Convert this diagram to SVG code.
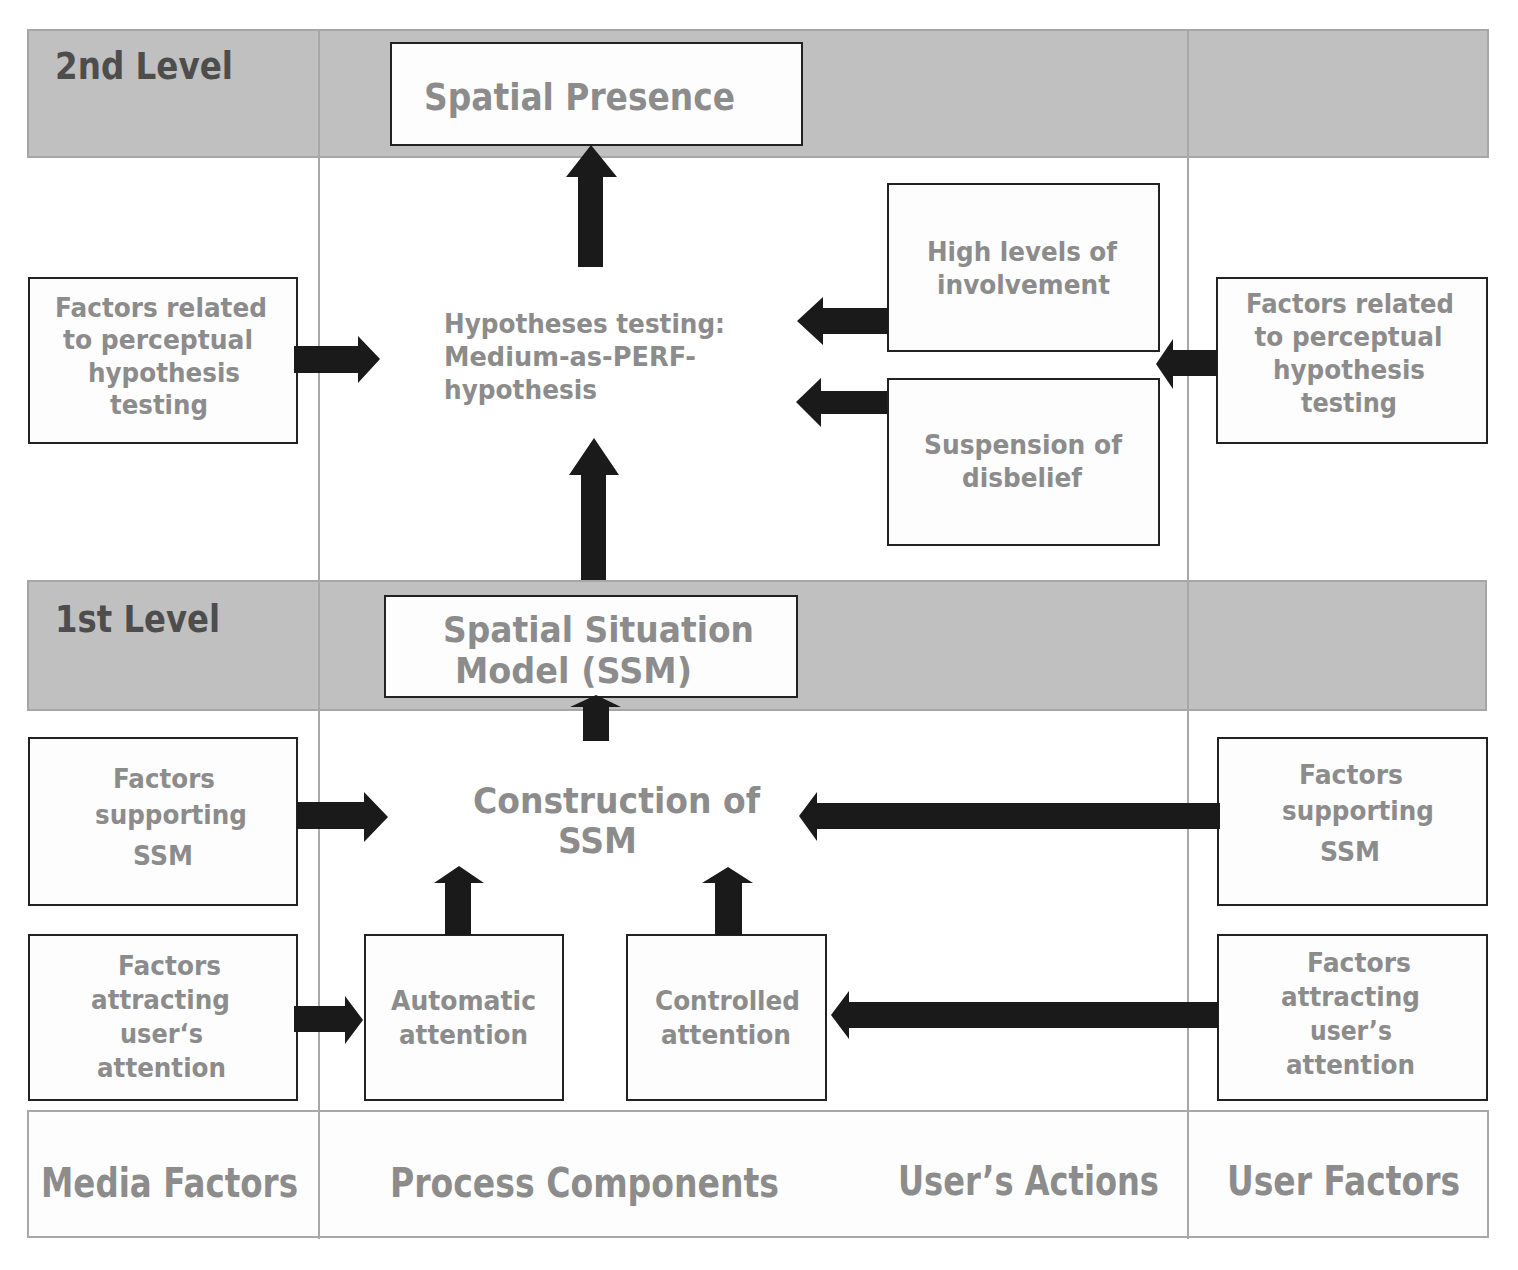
<svg xmlns="http://www.w3.org/2000/svg" width="1518" height="1270" viewBox="0 0 1518 1270">
<style>
.band{fill:#c0c0c0;stroke:#a6a6a6;stroke-width:2}
.bandw{fill:#fdfdfd;stroke:#a8a8a8;stroke-width:2}
.vline{stroke:#a8a8a8;stroke-width:2;fill:none}
.box{fill:#fdfdfd;stroke:#222;stroke-width:2}
.arr{fill:#1a1a1a}
text{font-family:"DejaVu Sans","Liberation Sans",sans-serif;font-weight:bold;fill:#8c8c8c}
.t{font-size:27px;text-anchor:middle}
.tl{font-size:27px;text-anchor:start}
.big{font-size:38px;text-anchor:middle}
.mid{font-size:35px;text-anchor:middle}
.lvl{font-size:37px;fill:#4d4d4d;text-anchor:start}
.bot{font-size:40px;text-anchor:middle}
</style>
<rect width="1518" height="1270" fill="#ffffff"/>
<g id="bands">
<rect class="band" x="28" y="30" width="1460" height="127"/>
<rect class="band" x="28" y="581" width="1458" height="129"/>
<rect class="bandw" x="28" y="1111" width="1460" height="126"/>
<line class="vline" x1="319" y1="30" x2="319" y2="1239"/>
<line class="vline" x1="1188" y1="30" x2="1188" y2="1239"/>
<text class="lvl" x="55" y="79" textLength="178" lengthAdjust="spacingAndGlyphs">2nd Level</text>
<text class="lvl" x="55" y="632" textLength="165" lengthAdjust="spacingAndGlyphs">1st Level</text>
<text class="bot" x="169.5" y="1197" textLength="257" lengthAdjust="spacingAndGlyphs">Media Factors</text>
<text class="bot" x="584.5" y="1197" textLength="389" lengthAdjust="spacingAndGlyphs">Process Components</text>
<text class="bot" x="1028.5" y="1195" textLength="261" lengthAdjust="spacingAndGlyphs">User’s Actions</text>
<text class="bot" x="1343.5" y="1195" textLength="233" lengthAdjust="spacingAndGlyphs">User Factors</text>
</g>
<g id="spatial-presence">
<rect class="box" x="391" y="43" width="411" height="102"/>
<text class="big" x="579.5" y="110" textLength="311" lengthAdjust="spacingAndGlyphs">Spatial Presence</text>
</g>
<g id="hypotheses-testing">
<text class="tl" x="444" y="333" textLength="281" lengthAdjust="spacingAndGlyphs">Hypotheses testing:</text>
<text class="tl" x="444" y="366" textLength="252" lengthAdjust="spacingAndGlyphs">Medium-as-PERF-</text>
<text class="tl" x="444" y="399" textLength="153" lengthAdjust="spacingAndGlyphs">hypothesis</text>
</g>
<g id="media-perceptual">
<rect class="box" x="29" y="278" width="268" height="165"/>
<text class="t" x="161" y="317" textLength="212" lengthAdjust="spacingAndGlyphs">Factors related</text>
<text class="t" x="158" y="349" textLength="190" lengthAdjust="spacingAndGlyphs">to perceptual</text>
<text class="t" x="164" y="382" textLength="152" lengthAdjust="spacingAndGlyphs">hypothesis</text>
<text class="t" x="159" y="414" textLength="98" lengthAdjust="spacingAndGlyphs">testing</text>
</g>
<g id="high-involvement">
<rect class="box" x="888" y="184" width="271" height="167"/>
<text class="t" x="1022" y="261" textLength="190" lengthAdjust="spacingAndGlyphs">High levels of</text>
<text class="t" x="1023.5" y="294" textLength="173" lengthAdjust="spacingAndGlyphs">involvement</text>
</g>
<g id="suspension">
<rect class="box" x="888" y="379" width="271" height="166"/>
<text class="t" x="1023" y="454" textLength="198" lengthAdjust="spacingAndGlyphs">Suspension of</text>
<text class="t" x="1022" y="487" textLength="120" lengthAdjust="spacingAndGlyphs">disbelief</text>
</g>
<g id="user-perceptual">
<rect class="box" x="1217" y="278" width="270" height="165"/>
<text class="t" x="1350" y="313" textLength="208" lengthAdjust="spacingAndGlyphs">Factors related</text>
<text class="t" x="1348.5" y="346" textLength="188" lengthAdjust="spacingAndGlyphs">to perceptual</text>
<text class="t" x="1349" y="379" textLength="152" lengthAdjust="spacingAndGlyphs">hypothesis</text>
<text class="t" x="1349" y="412" textLength="96" lengthAdjust="spacingAndGlyphs">testing</text>
</g>
<g id="ssm">
<rect class="box" x="385" y="596" width="412" height="101"/>
<text class="mid" x="598.5" y="642" textLength="311" lengthAdjust="spacingAndGlyphs">Spatial Situation</text>
<text class="mid" x="573.5" y="683" textLength="237" lengthAdjust="spacingAndGlyphs">Model (SSM)</text>
</g>
<g id="construction">
<text class="mid" x="616.5" y="813" textLength="287" lengthAdjust="spacingAndGlyphs">Construction of</text>
<text class="mid" x="597.5" y="853" textLength="79" lengthAdjust="spacingAndGlyphs">SSM</text>
</g>
<g id="media-supporting">
<rect class="box" x="29" y="738" width="268" height="167"/>
<text class="t" x="164" y="788" textLength="102" lengthAdjust="spacingAndGlyphs">Factors</text>
<text class="t" x="171" y="824" textLength="152" lengthAdjust="spacingAndGlyphs">supporting</text>
<text class="t" x="163" y="865" textLength="60" lengthAdjust="spacingAndGlyphs">SSM</text>
</g>
<g id="media-attracting">
<rect class="box" x="29" y="935" width="268" height="165"/>
<text class="t" x="169.5" y="975" textLength="103" lengthAdjust="spacingAndGlyphs">Factors</text>
<text class="t" x="160.5" y="1009" textLength="139" lengthAdjust="spacingAndGlyphs">attracting</text>
<text class="t" x="161.5" y="1043" textLength="83" lengthAdjust="spacingAndGlyphs">user‘s</text>
<text class="t" x="161.5" y="1077" textLength="129" lengthAdjust="spacingAndGlyphs">attention</text>
</g>
<g id="automatic-attention">
<rect class="box" x="365" y="935" width="198" height="165"/>
<text class="t" x="463.5" y="1010" textLength="145" lengthAdjust="spacingAndGlyphs">Automatic</text>
<text class="t" x="463.5" y="1044" textLength="129" lengthAdjust="spacingAndGlyphs">attention</text>
</g>
<g id="controlled-attention">
<rect class="box" x="627" y="935" width="199" height="165"/>
<text class="t" x="727.5" y="1010" textLength="145" lengthAdjust="spacingAndGlyphs">Controlled</text>
<text class="t" x="726" y="1044" textLength="130" lengthAdjust="spacingAndGlyphs">attention</text>
</g>
<g id="user-supporting">
<rect class="box" x="1218" y="738" width="269" height="167"/>
<text class="t" x="1351" y="784" textLength="104" lengthAdjust="spacingAndGlyphs">Factors</text>
<text class="t" x="1358" y="820" textLength="152" lengthAdjust="spacingAndGlyphs">supporting</text>
<text class="t" x="1350" y="861" textLength="60" lengthAdjust="spacingAndGlyphs">SSM</text>
</g>
<g id="user-attracting">
<rect class="box" x="1218" y="935" width="269" height="165"/>
<text class="t" x="1359" y="972" textLength="104" lengthAdjust="spacingAndGlyphs">Factors</text>
<text class="t" x="1350.5" y="1006" textLength="139" lengthAdjust="spacingAndGlyphs">attracting</text>
<text class="t" x="1351" y="1040" textLength="82" lengthAdjust="spacingAndGlyphs">user’s</text>
<text class="t" x="1350.5" y="1074" textLength="129" lengthAdjust="spacingAndGlyphs">attention</text>
</g>
<g id="connectors">
<polygon class="arr" points="578,267 603,267 603,177 617,177 591,145 566,177 578,177"/>
<polygon class="arr" points="581,580 606,580 606,475 619,475 594,438 569,475 581,475"/>
<polygon class="arr" points="294,346 358,346 358,336 380,359 358,383 358,373 294,373"/>
<polygon class="arr" points="888,308 823,308 823,297 797,321 823,345 823,334 888,334"/>
<polygon class="arr" points="887,391 821,391 821,378 796,402 821,427 821,414 887,414"/>
<polygon class="arr" points="1217,350 1173,350 1173,339 1156,364 1173,389 1173,376 1217,376"/>
<polygon class="arr" points="583,741 609,741 609,707 621,707 596,695 570,707 583,707"/>
<polygon class="arr" points="297,802 364,802 364,792 388,817 364,842 364,829 297,829"/>
<polygon class="arr" points="294,1006 345,1006 345,996 363,1020 345,1044 345,1032 294,1032"/>
<polygon class="arr" points="445,935 471,935 471,883 484,883 459,866 434,883 445,883"/>
<polygon class="arr" points="715,935 742,935 742,883 753,883 728,867 702,883 715,883"/>
<polygon class="arr" points="1220,803 817,803 817,792 799,816 817,841 817,829 1220,829"/>
<polygon class="arr" points="1218,1002 849,1002 849,991 831,1015 849,1039 849,1028 1218,1028"/>
</g>
</svg>
